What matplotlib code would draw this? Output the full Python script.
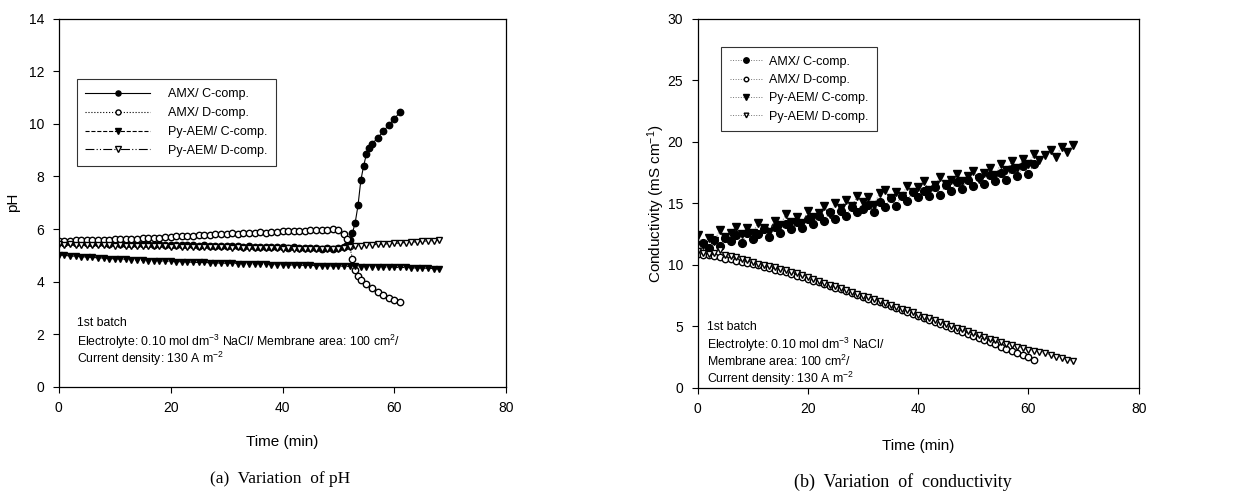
import matplotlib
matplotlib.use("Agg")
import matplotlib.pyplot as plt

plt.rcParams['font.family'] = ['Liberation Sans', 'DejaVu Sans']
plt.rcParams['mathtext.fontset'] = 'custom'
plt.rcParams['mathtext.rm'] = 'Liberation Sans'
plt.rcParams['mathtext.it'] = 'Liberation Sans:italic'

# ---------------- (a) pH data ----------------
t_amx_c = list(range(0, 52)) + [51.5, 52, 52.5, 53, 53.5, 54, 54.5, 55, 55.5, 56, 57, 58, 59, 60, 61]
t_amx_c = sorted(t_amx_c)
ph_amx_c = [5.50, 5.49, 5.51, 5.48, 5.50, 5.47, 5.48, 5.46, 5.47, 5.45,
            5.46, 5.44, 5.45, 5.43, 5.44, 5.42, 5.43, 5.41, 5.42, 5.40,
            5.41, 5.39, 5.40, 5.38, 5.39, 5.37, 5.38, 5.36, 5.37, 5.35,
            5.36, 5.34, 5.35, 5.33, 5.34, 5.32, 5.33, 5.31, 5.32, 5.30,
            5.31, 5.29, 5.30, 5.28, 5.29, 5.27, 5.28, 5.26, 5.27, 5.25,
            5.27, 5.30, 5.40, 5.60, 5.85, 6.25, 6.90, 7.85, 8.40, 8.85,
            9.10, 9.25, 9.45, 9.72, 9.95, 10.20, 10.44]

t_amx_d = list(range(0, 52)) + [51.5, 52, 52.5, 53, 53.5, 54, 55, 56, 57, 58, 59, 60, 61]
t_amx_d = sorted(t_amx_d)
ph_amx_d = [5.55, 5.56, 5.55, 5.57, 5.57, 5.58, 5.58, 5.59, 5.60, 5.60,
            5.62, 5.61, 5.63, 5.64, 5.63, 5.65, 5.66, 5.67, 5.68, 5.69,
            5.71, 5.72, 5.74, 5.73, 5.75, 5.76, 5.78, 5.79, 5.80, 5.81,
            5.83, 5.84, 5.83, 5.85, 5.86, 5.87, 5.88, 5.87, 5.89, 5.90,
            5.92, 5.91, 5.93, 5.94, 5.93, 5.95, 5.96, 5.97, 5.98, 6.00,
            5.96, 5.82, 5.62, 5.35, 4.88, 4.45, 4.22, 4.08, 3.92, 3.76,
            3.60, 3.48, 3.38, 3.30, 3.24]

t_py = list(range(0, 69))
ph_py_c = [5.02, 5.00, 4.98, 4.97, 4.95, 4.94, 4.92, 4.91, 4.90, 4.88,
           4.87, 4.86, 4.85, 4.84, 4.82, 4.81, 4.80, 4.80, 4.79, 4.78,
           4.77, 4.76, 4.76, 4.75, 4.74, 4.73, 4.73, 4.72, 4.71, 4.71,
           4.70, 4.70, 4.69, 4.68, 4.68, 4.67, 4.67, 4.66, 4.65, 4.65,
           4.64, 4.64, 4.63, 4.63, 4.62, 4.62, 4.61, 4.61, 4.60, 4.60,
           4.59, 4.59, 4.58, 4.58, 4.57, 4.57, 4.57, 4.56, 4.56, 4.55,
           4.55, 4.54, 4.54, 4.53, 4.52, 4.52, 4.51, 4.50, 4.48]
ph_py_d = [5.42, 5.41, 5.42, 5.40, 5.41, 5.39, 5.40, 5.39, 5.38, 5.39,
           5.37, 5.38, 5.36, 5.37, 5.36, 5.35, 5.36, 5.34, 5.35, 5.34,
           5.33, 5.34, 5.33, 5.32, 5.33, 5.31, 5.32, 5.31, 5.30, 5.31,
           5.30, 5.29, 5.30, 5.29, 5.28, 5.29, 5.28, 5.27, 5.28, 5.27,
           5.26, 5.27, 5.26, 5.25, 5.26, 5.25, 5.24, 5.25, 5.24, 5.25,
           5.26, 5.28, 5.31, 5.34, 5.37, 5.39, 5.40, 5.42, 5.43, 5.44,
           5.46, 5.47, 5.49, 5.50, 5.52, 5.53, 5.55, 5.56, 5.58]

# ---------------- (b) conductivity data ----------------
t_b_amx = list(range(0, 62))
k_amx_c = [11.0, 11.8, 11.4, 12.0, 11.5, 12.2, 11.9, 12.4, 11.8, 12.6,
           12.1, 12.5, 12.9, 12.3, 13.1, 12.6, 13.3, 12.9, 13.5, 13.0,
           13.7, 13.3, 14.0, 13.6, 14.3, 13.7, 14.4, 14.0, 14.7, 14.3,
           14.5, 14.9, 14.3, 15.1, 14.7, 15.4, 14.8, 15.6, 15.2, 15.9,
           15.5, 16.0, 15.6, 16.3, 15.7, 16.5, 16.0, 16.7, 16.2, 16.9,
           16.4, 17.1, 16.6, 17.3, 16.8, 17.5, 16.9, 17.8, 17.2, 18.0,
           17.4, 18.2]
k_amx_d = [10.9, 10.8, 10.8, 10.7, 10.6, 10.5, 10.45, 10.35, 10.25, 10.15,
           10.05, 9.95, 9.85, 9.75, 9.6, 9.5, 9.4, 9.25, 9.1, 9.0,
           8.85, 8.7, 8.6, 8.45, 8.3, 8.15, 8.0, 7.85, 7.7, 7.55,
           7.4, 7.25, 7.1, 6.95, 6.8, 6.65, 6.5, 6.3, 6.15, 6.0,
           5.85, 5.7, 5.5, 5.35, 5.2, 5.05, 4.9, 4.7, 4.55, 4.4,
           4.2, 4.05, 3.9, 3.7, 3.55, 3.35, 3.2, 3.0, 2.85, 2.65,
           2.5, 2.3]
t_b_py = list(range(0, 69))
k_py_c = [12.4, 11.6, 12.2, 11.9, 12.8, 12.3, 12.6, 13.1, 12.5, 13.0,
          12.6, 13.4, 13.0, 12.7, 13.6, 13.2, 14.1, 13.5, 13.9, 13.4,
          14.4, 13.9, 14.2, 14.8, 14.1, 15.0, 14.6, 15.3, 14.8, 15.6,
          15.1, 15.5, 14.9, 15.8, 16.1, 15.4, 15.9, 15.6, 16.4, 15.9,
          16.3, 16.8, 16.1, 16.5, 17.1, 16.6, 16.9, 17.4, 16.8, 17.2,
          17.6, 17.0, 17.5, 17.9, 17.3, 18.2, 17.7, 18.4, 17.9, 18.6,
          18.2, 19.0, 18.5, 18.9, 19.3, 18.8, 19.6, 19.2, 19.7]
k_py_d = [11.1, 11.0, 10.9, 11.0, 11.2, 10.8, 10.7, 10.6, 10.5, 10.4,
          10.2, 10.1, 10.0, 9.9, 9.8, 9.65, 9.55, 9.4, 9.3, 9.15,
          9.0, 8.85, 8.7, 8.55, 8.4, 8.25, 8.1, 7.95, 7.8, 7.65,
          7.5, 7.35, 7.2, 7.05, 6.9, 6.75, 6.6, 6.45, 6.3, 6.15,
          5.95, 5.8, 5.65, 5.5, 5.35, 5.2, 5.05, 4.9, 4.75, 4.6,
          4.45, 4.3, 4.15, 4.0, 3.9, 3.75, 3.6, 3.5, 3.35, 3.25,
          3.1, 3.0, 2.9, 2.8, 2.65, 2.55, 2.4, 2.3, 2.15]

labels = ['AMX/ C-comp.', 'AMX/ D-comp.', 'Py-AEM/ C-comp.', 'Py-AEM/ D-comp.']

fig = plt.figure(figsize=(12.5, 4.91), dpi=100)
ax1 = fig.add_axes([0.047, 0.212, 0.358, 0.75])
ax2 = fig.add_axes([0.558, 0.210, 0.353, 0.752])

ms = 4.6
ax1.plot(t_amx_c, ph_amx_c, '-', color='k', lw=0.8, marker='o', ms=ms, mfc='k', mec='k', label=labels[0])
ax1.plot(t_amx_d, ph_amx_d, ':', color='k', lw=0.8, marker='o', ms=ms, mfc='white', mec='k', mew=1.0, label=labels[1])
ax1.plot(t_py, ph_py_c, '--', color='k', lw=0.8, marker='v', ms=ms + 0.4, mfc='k', mec='k', label=labels[2])
ax1.plot(t_py, ph_py_d, color='k', lw=0.8, ls=(0, (8, 2, 1, 2, 1, 2)), marker='v', ms=ms + 0.4, mfc='white', mec='k', mew=1.0, label=labels[3])

ax1.set_xlim(0, 80)
ax1.set_ylim(0, 14)
ax1.set_xticks(range(0, 81, 20))
ax1.set_yticks(range(0, 15, 2))
ax1.set_xlabel('Time (min)', fontsize=11, labelpad=14)
ax1.set_ylabel('pH', fontsize=11, labelpad=6)
leg1 = ax1.legend(loc='upper left', bbox_to_anchor=(0.026, 0.852), fontsize=9, frameon=True,
                  fancybox=False, edgecolor='k', handlelength=5.2, handletextpad=1.4,
                  labelspacing=0.55, borderpad=0.7, markerscale=0.8)
leg1.get_frame().set_linewidth(0.8)
ax1.text(3.2, 2.43, '1st batch', fontsize=8.8, va='center')
ax1.text(3.2, 1.73, 'Electrolyte: 0.10 mol dm$^{-3}$ NaCl/ Membrane area: 100 cm$^{2}$/', fontsize=8.8, va='center')
ax1.text(3.2, 1.06, 'Current density: 130 A m$^{-2}$', fontsize=8.8, va='center')

ms2 = 5.6
ax2.plot(t_b_amx, k_amx_c, ls=':', color='0.45', lw=0.7, marker='o', ms=ms2, mfc='k', mec='k', label=labels[0])
ax2.plot(t_b_amx, k_amx_d, ls=':', color='0.45', lw=0.7, marker='o', ms=ms2 - 1.0, mfc='white', mec='k', mew=1.0, label=labels[1])
ax2.plot(t_b_py, k_py_c, ls=':', color='0.45', lw=0.7, marker='v', ms=ms2 + 0.4, mfc='k', mec='k', label=labels[2])
ax2.plot(t_b_py, k_py_d, ls=':', color='0.45', lw=0.7, marker='v', ms=ms2 - 0.8, mfc='white', mec='k', mew=1.0, label=labels[3])

ax2.set_xlim(0, 80)
ax2.set_ylim(0, 30)
ax2.set_xticks(range(0, 81, 20))
ax2.set_yticks(range(0, 31, 5))
ax2.set_xlabel('Time (min)', fontsize=11, labelpad=16)
ax2.set_ylabel('Conductivity (mS cm$^{-1}$)', fontsize=11, labelpad=0)
leg2 = ax2.legend(loc='upper left', bbox_to_anchor=(0.04, 0.94), fontsize=9, frameon=True,
                  fancybox=False, edgecolor='k', handlelength=2.6, handletextpad=0.5,
                  labelspacing=0.5, borderpad=0.7, markerscale=0.7)
leg2.get_frame().set_linewidth(0.8)
ax2.text(1.8, 4.95, '1st batch', fontsize=8.8, va='center')
ax2.text(1.8, 3.5, 'Electrolyte: 0.10 mol dm$^{-3}$ NaCl/', fontsize=8.8, va='center')
ax2.text(1.8, 2.15, 'Membrane area: 100 cm$^{2}$/', fontsize=8.8, va='center')
ax2.text(1.8, 0.75, 'Current density: 130 A m$^{-2}$', fontsize=8.8, va='center')

for ax in (ax1, ax2):
    ax.tick_params(direction='out', length=4.5, width=0.8, labelsize=10, pad=6)
    for s in ax.spines.values():
        s.set_linewidth(0.9)

fig.text(0.224, 0.025, '(a)  Variation  of pH', fontsize=12.5, family='Liberation Serif', ha='center', va='center')
fig.text(0.722, 0.018, '(b)  Variation  of  conductivity', fontsize=13, family='Liberation Serif', ha='center', va='center')

fig.savefig('out.png', dpi=100)
